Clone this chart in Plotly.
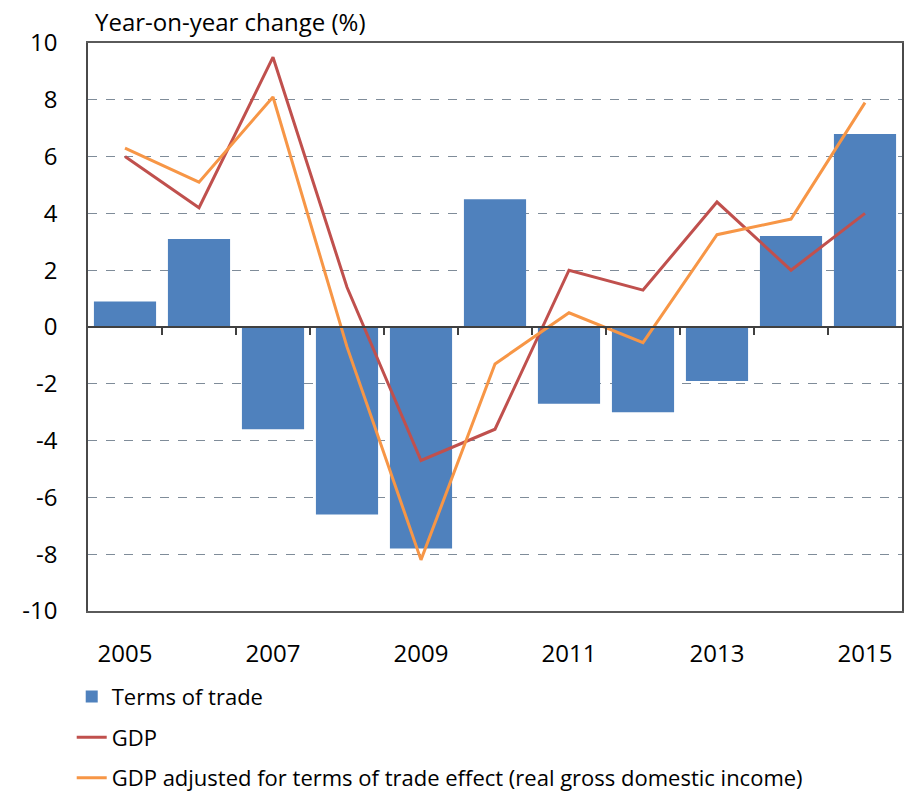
import plotly.graph_objects as go

# Annual data, year-on-year change (%)
years = [2005, 2006, 2007, 2008, 2009, 2010, 2011, 2012, 2013, 2014, 2015]
terms_of_trade = [0.9, 3.1, -3.6, -6.6, -7.8, 4.5, -2.7, -3.0, -1.9, 3.2, 6.8]
gdp = [6.0, 4.2, 9.5, 1.4, -4.7, -3.6, 2.0, 1.3, 4.4, 2.0, 4.0]
rgdi = [6.3, 5.1, 8.1, -0.7, -8.2, -1.3, 0.5, -0.55, 3.25, 3.8, 7.9]

label_years = [2005, 2007, 2009, 2011, 2013, 2015]
y_ticks = [-10, -8, -6, -4, -2, 0, 2, 4, 6, 8, 10]
y_labels = ["-10", "-8", "-6", "-4", "-2", "0", "2", "4", "6", "8", "10"]
boundaries = [y + 0.5 for y in years[:-1]]

FONT = "Open Sans"
FS = 24
BAR = "#4F81BD"
RED = "#C0504D"
ORANGE = "#F79646"

fig = go.Figure()
fig.add_trace(go.Bar(
    x=years, y=terms_of_trade, name="Terms of trade",
    marker=dict(color=BAR, line=dict(width=0)),
    legendgroup="a",
))
fig.add_trace(go.Scatter(
    x=years, y=gdp, name="GDP", mode="lines",
    line=dict(color=RED, width=3), legendgroup="b",
))
fig.add_trace(go.Scatter(
    x=years, y=rgdi,
    name="GDP adjusted for terms of trade effect (real gross domestic income)",
    mode="lines", line=dict(color=ORANGE, width=3), legendgroup="c",
))
# invisible trace carrying the zero-line axis with boundary ticks
fig.add_trace(go.Scatter(
    x=[years[0], years[-1]], y=[0, 0], xaxis="x2", mode="lines",
    line=dict(width=0), showlegend=False, hoverinfo="skip",
))

fig.update_layout(
    width=920, height=793,
    margin=dict(l=88, r=18, t=43, b=182, autoexpand=False),
    paper_bgcolor="white", plot_bgcolor="white",
    font=dict(family=FONT, size=FS, color="#000000"),
    bargap=0.16,
    showlegend=True,
    legend=dict(
        orientation="v", x=-0.02, xanchor="left", y=-0.114, yanchor="top",
        font=dict(family=FONT, size=22, color="#000000"),
        tracegroupgap=9, itemwidth=30, bgcolor="rgba(0,0,0,0)",
    ),
    xaxis=dict(
        range=[2004.5, 2015.5], tickmode="array", tickvals=label_years,
        ticktext=[str(y) for y in label_years], ticks="",
        showgrid=False, zeroline=False, showline=True, mirror=True,
        linecolor="#5a5a5a", linewidth=1.5, ticklabelstandoff=20,
        tickfont=dict(size=FS), automargin=False,
    ),
    xaxis2=dict(
        range=[2004.5, 2015.5], overlaying="x", anchor="free", position=0.5,
        side="bottom", showline=True, linecolor="#404040", linewidth=1.5,
        tickmode="array", tickvals=boundaries, ticks="outside", ticklen=7,
        tickcolor="#404040", tickwidth=1.5, showticklabels=False,
        showgrid=False, zeroline=False,
    ),
    yaxis=dict(
        range=[-10, 10], tickmode="array", tickvals=y_ticks, ticktext=y_labels,
        showgrid=True, gridcolor="#7f8c99", griddash="dash", gridwidth=1,
        zeroline=False, showline=True, mirror=True, linecolor="#4a4a4a",
        linewidth=1.5, ticks="", ticklabelstandoff=24, tickfont=dict(size=FS),
        automargin=False,
    ),
    annotations=[dict(
        text="Year-on-year change (%)", xref="paper", yref="paper",
        x=0.006, y=1.006, xanchor="left", yanchor="bottom", showarrow=False,
        font=dict(family=FONT, size=FS, color="#000000"),
    )],
)

fig.write_html("out.html")
